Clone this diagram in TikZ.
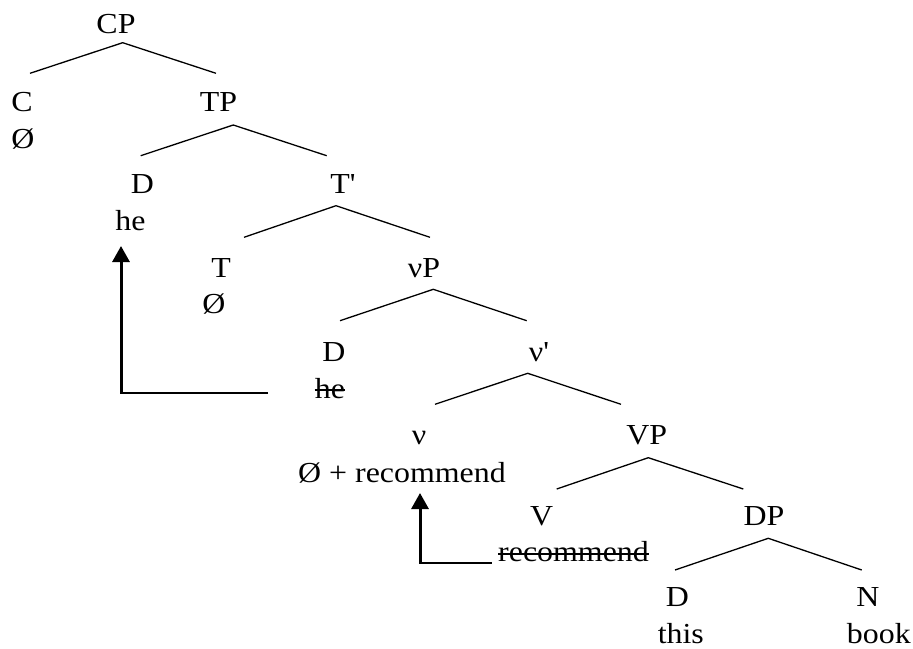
\documentclass[tikz,border=0pt]{standalone}
\usepackage{fontspec}
\newfontfamily\tnr{Liberation Serif}[FakeStretch=1.1]
\usetikzlibrary{arrows.meta}
\tikzset{
  lab/.style={inner sep=0pt, anchor=base, font=\tnr\fontsize{29}{33}\selectfont},
  branch/.style={line width=1.3pt, line cap=butt},
  movearrow/.style={line width=3pt, -{Triangle[width=17pt,length=16pt]}},
  moveline/.style={line width=1.6pt},
  strike/.style={line width=1.8pt}
}
\begin{document}
\begin{tikzpicture}[x=1pt,y=-1pt]
\useasboundingbox (0,0) rectangle (913,648);
% labels
\node[lab] (cp) at (116,33) {CP};
\node[lab] (c) at (22,111) {C};
\node[lab] (cnull) at (23,148) {Ø};
\node[lab] (tp) at (218.5,111) {TP};
\node[lab] (d1) at (142.5,193) {D};
\node[lab] (he1) at (130.5,230) {he};
\node[lab] (tbar) at (343,193) {T'};
\node[lab] (t) at (221,277) {T};
\node[lab] (tnull) at (214,313) {Ø};
\node[lab] (vp) at (424,277) {νP};
\node[lab] (d2) at (334,361) {D};
\node[lab] (he2) at (330,398) {he};
\node[lab] (vbar) at (539,361) {ν'};
\node[lab] (v) at (419,444) {ν};
\node[lab] (vrec) at (402,482) {Ø + recommend};
\node[lab] (VP) at (646.7,444) {VP};
\node[lab] (V) at (541.7,525) {V};
\node[lab] (rec) at (573.5,561) {recommend};
\node[lab] (dp) at (764,525) {DP};
\node[lab] (d3) at (677.5,606.5) {D};
\node[lab] (this) at (680.8,643) {this};
\node[lab] (n) at (868,606.5) {N};
\node[lab] (book) at (878.8,643) {book};
% branch points
\coordinate (cpA) at (122.7,42.7); \coordinate (cpL) at (30,73.3); \coordinate (cpR) at (216,73.3);
\coordinate (tpA) at (233.3,125); \coordinate (tpL) at (140.7,155.7); \coordinate (tpR) at (326.7,155.7);
\coordinate (tbA) at (336,205.7); \coordinate (tbL) at (244,237.3); \coordinate (tbR) at (430,237.3);
\coordinate (vpA) at (433.3,289.3); \coordinate (vpL) at (340,320.7); \coordinate (vpR) at (526.7,320.7);
\coordinate (vbA) at (527.7,373.3); \coordinate (vbL) at (435,404.3); \coordinate (vbR) at (621,404.3);
\coordinate (VPA) at (648.3,457.7); \coordinate (VPL) at (556.7,489); \coordinate (VPR) at (743.3,489);
\coordinate (dpA) at (768.3,538.3); \coordinate (dpL) at (675,570); \coordinate (dpR) at (861.7,570);
\draw[branch] (cpL) -- (cpA) -- (cpR);
\draw[branch] (tpL) -- (tpA) -- (tpR);
\draw[branch] (tbL) -- (tbA) -- (tbR);
\draw[branch] (vpL) -- (vpA) -- (vpR);
\draw[branch] (vbL) -- (vbA) -- (vbR);
\draw[branch] (VPL) -- (VPA) -- (VPR);
\draw[branch] (dpL) -- (dpA) -- (dpR);
% strike-through
\draw[strike] ([yshift=8pt]he2.base west) -- ([yshift=8pt]he2.base east);
\draw[strike] ([yshift=7pt]rec.base west) -- ([yshift=7pt]rec.base east);
% movement arrows
\coordinate (m1c) at (121,393); \coordinate (m1e) at (268,393); \coordinate (m1t) at (121,246);
\draw[moveline] (m1e) -- (m1c);
\draw[movearrow] ([yshift=-0.8pt]m1c) -- (m1t);
\coordinate (m2c) at (420,563); \coordinate (m2e) at (491.7,563); \coordinate (m2t) at (420,493);
\draw[moveline] (m2e) -- (m2c);
\draw[movearrow] ([yshift=-0.8pt]m2c) -- (m2t);
\end{tikzpicture}
\end{document}
